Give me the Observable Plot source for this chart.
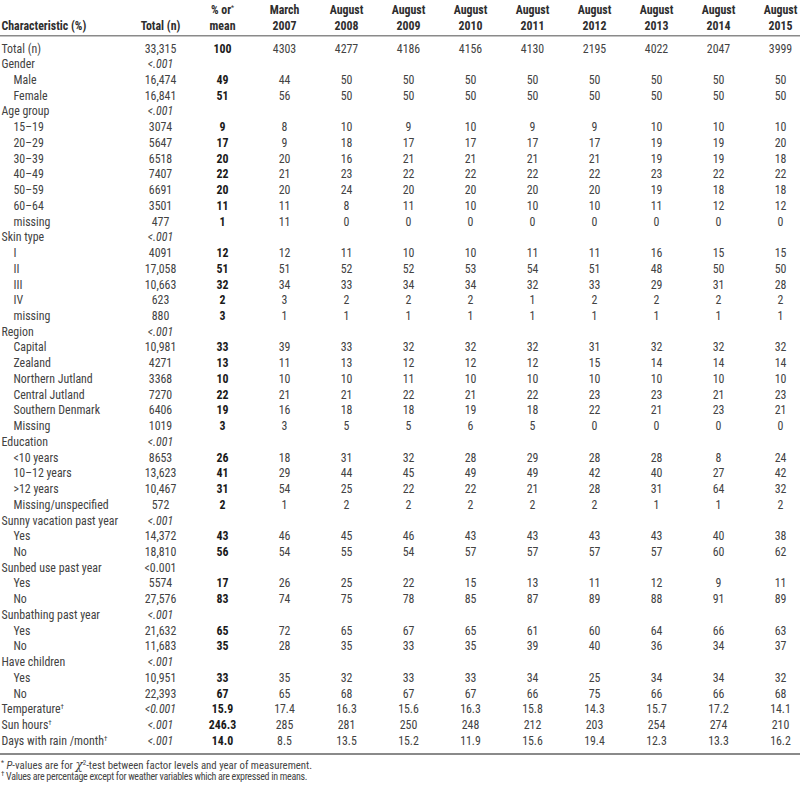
<!DOCTYPE html>
<html>
<head>
<meta charset="utf-8">
<script src="https://cdn.jsdelivr.net/npm/d3@7"></script>
<script src="https://cdn.jsdelivr.net/npm/@observablehq/plot@0.6"></script>
<style>
  body { margin: 0; background: #fff; }
  #chart svg { display: block; }
  .notes { font-family: "Liberation Sans Narrow", "Arial Narrow", "Roboto Condensed", "DejaVu Sans Condensed", "Liberation Sans", sans-serif;
           color: #444; line-height: 11px; padding-left: 1px; margin-top: 3px; }
  .notes .n1 { font-size: 10.8px; }
  .notes .n2 { font-size: 10px; letter-spacing: -0.3px; }
  .notes sup { font-size: 7px; line-height: 0; vertical-align: baseline; position: relative; top: -0.55em; }
  .notes .chi { font-family: "DejaVu Serif", "Liberation Serif", serif; font-size: 12px; line-height: 0; font-style: italic; }
</style>
</head>
<body>
<div id="chart"></div>
<div class="notes">
  <div class="n1"><sup>*</sup> <i>P</i>-values are for <span class="chi">χ</span><sup>2</sup>-test between factor levels and year of measurement.</div>
  <div class="n2"><sup>†</sup> Values are percentage except for weather variables which are expressed in means.</div>
</div>
<script>
// ---------- data ----------
const columns = ["Total (n)", "% or mean", "March 2007", "August 2008", "August 2009", "August 2010",
  "August 2011", "August 2012", "August 2013", "August 2014", "August 2015"];
const headerTop = ["", "% or*", "March", "August", "August", "August", "August", "August", "August", "August", "August"];
const headerBottom = ["Total (n)", "mean", "2007", "2008", "2009", "2010", "2011", "2012", "2013", "2014", "2015"];

const characteristic = ["Total (n)", "Gender", "Male", "Female", "Age group", "15–19", "20–29", "30–39", "40–49",
  "50–59", "60–64", "missing", "Skin type", "I", "II", "III", "IV", "missing", "Region", "Capital", "Zealand",
  "Northern Jutland", "Central Jutland", "Southern Denmark", "Missing", "Education", "<10 years", "10–12 years",
  ">12 years", "Missing/unspecified", "Sunny vacation past year", "Yes", "No", "Sunbed use past year", "Yes", "No",
  "Sunbathing past year", "Yes", "No", "Have children", "Yes", "No", "Temperature†", "Sun hours†",
  "Days with rain /month†"];
const level = [0, 0, 1, 1, 0, 1, 1, 1, 1, 1, 1, 1, 0, 1, 1, 1, 1, 1, 0, 1, 1, 1, 1, 1, 1, 0, 1, 1, 1, 1,
  0, 1, 1, 0, 1, 1, 0, 1, 1, 0, 1, 1, 0, 0, 0];

const totalN = ["33,315", "", "16,474", "16,841", "", "3074", "5647", "6518", "7407", "6691", "3501", "477", "",
  "4091", "17,058", "10,663", "623", "880", "", "10,981", "4271", "3368", "7270", "6406", "1019", "", "8653",
  "13,623", "10,467", "572", "", "14,372", "18,810", "", "5574", "27,576", "", "21,632", "11,683", "", "10,951",
  "22,393", "", "", ""];
const pValue = ["", "<.001", "", "", "<.001", "", "", "", "", "", "", "", "<.001", "", "", "", "", "", "<.001",
  "", "", "", "", "", "", "<.001", "", "", "", "", "<.001", "", "", "<0.001", "", "", "<.001", "", "", "<.001",
  "", "", "<0.001", "<.001", "<.001"];
const pctMean = ["100", "", "49", "51", "", "9", "17", "20", "22", "20", "11", "1", "", "12", "51", "32", "2", "3",
  "", "33", "13", "10", "22", "19", "3", "", "26", "41", "31", "2", "", "43", "56", "", "17", "83", "", "65", "35",
  "", "33", "67", "15.9", "246.3", "14.0"];

// one row per characteristic: March 2007, August 2008 ... August 2015
const yearValues = [
  ["4303", "4277", "4186", "4156", "4130", "2195", "4022", "2047", "3999"],
  [],
  ["44", "50", "50", "50", "50", "50", "50", "50", "50"],
  ["56", "50", "50", "50", "50", "50", "50", "50", "50"],
  [],
  ["8", "10", "9", "10", "9", "9", "10", "10", "10"],
  ["9", "18", "17", "17", "17", "17", "19", "19", "20"],
  ["20", "16", "21", "21", "21", "21", "19", "19", "18"],
  ["21", "23", "22", "22", "22", "22", "23", "22", "22"],
  ["20", "24", "20", "20", "20", "20", "19", "18", "18"],
  ["11", "8", "11", "10", "10", "10", "11", "12", "12"],
  ["11", "0", "0", "0", "0", "0", "0", "0", "0"],
  [],
  ["12", "11", "10", "10", "11", "11", "16", "15", "15"],
  ["51", "52", "52", "53", "54", "51", "48", "50", "50"],
  ["34", "33", "34", "34", "32", "33", "29", "31", "28"],
  ["3", "2", "2", "2", "1", "2", "2", "2", "2"],
  ["1", "1", "1", "1", "1", "1", "1", "1", "1"],
  [],
  ["39", "33", "32", "32", "32", "31", "32", "32", "32"],
  ["11", "13", "12", "12", "12", "15", "14", "14", "14"],
  ["10", "10", "11", "10", "10", "10", "10", "10", "10"],
  ["21", "21", "22", "21", "22", "23", "23", "21", "23"],
  ["16", "18", "18", "19", "18", "22", "21", "23", "21"],
  ["3", "5", "5", "6", "5", "0", "0", "0", "0"],
  [],
  ["18", "31", "32", "28", "29", "28", "28", "8", "24"],
  ["29", "44", "45", "49", "49", "42", "40", "27", "42"],
  ["54", "25", "22", "22", "21", "28", "31", "64", "32"],
  ["1", "2", "2", "2", "2", "2", "1", "1", "2"],
  [],
  ["46", "45", "46", "43", "43", "43", "43", "40", "38"],
  ["54", "55", "54", "57", "57", "57", "57", "60", "62"],
  [],
  ["26", "25", "22", "15", "13", "11", "12", "9", "11"],
  ["74", "75", "78", "85", "87", "89", "88", "91", "89"],
  [],
  ["72", "65", "67", "65", "61", "60", "64", "66", "63"],
  ["28", "35", "33", "35", "39", "40", "36", "34", "37"],
  [],
  ["35", "32", "33", "33", "34", "25", "34", "34", "32"],
  ["65", "68", "67", "67", "66", "75", "66", "66", "68"],
  ["17.4", "16.3", "15.6", "16.3", "15.8", "14.3", "15.7", "17.2", "14.1"],
  ["285", "281", "250", "248", "212", "203", "254", "274", "210"],
  ["8.5", "13.5", "15.2", "11.9", "15.6", "19.4", "12.3", "13.3", "16.2"]
];

// ---------- build cell table ----------
const rows = d3.range(characteristic.length);
const cells = [];
rows.forEach(i => {
  if (totalN[i]) cells.push({row: i, col: columns[0], text: totalN[i], kind: "n"});
  if (pValue[i]) cells.push({row: i, col: columns[0], text: pValue[i], kind: pValue[i] === "<0.001" && level[i + 1] === 1 ? "pup" : "p"});
  if (pctMean[i]) cells.push({row: i, col: columns[1], text: pctMean[i], kind: "pct"});
  yearValues[i].forEach((v, j) => { if (v !== "") cells.push({row: i, col: columns[j + 2], text: v, kind: "year"}); });
});

const FONT = '"Liberation Sans Narrow", "Arial Narrow", "Roboto Condensed", "DejaVu Sans Condensed", "Liberation Sans", sans-serif';
const TXT = "#424242";

const chart = Plot.plot({
  width: 800,
  height: 757,
  marginTop: 35.5,
  marginBottom: 3.5,
  marginLeft: 0,
  marginRight: 0,
  x: {type: "point", domain: columns, range: [158.5, 780.5], padding: 0, axis: null},
  y: {type: "point", domain: rows, range: [47.7, 740], padding: 0, axis: null},
  style: {fontFamily: FONT, fontSize: "13.5px", background: "#fff", color: TXT},
  marks: [
    // horizontal rules
    Plot.ruleY([rows[0]], {dy: -12.5, stroke: "#8a8a8a", strokeWidth: 1.6}),
    Plot.ruleY([rows[rows.length - 1]], {dy: 13.5, stroke: "#8a8a8a", strokeWidth: 2.2}),
    // header
    Plot.text(["Characteristic (%)"], {frameAnchor: "top-left", lineAnchor: "middle", textAnchor: "start",
      dx: 1, dy: -10.5, fontWeight: "bold", fill: "#2e2e2e"}),
    Plot.text(columns, {x: d => d, text: (d, i) => headerTop[i], frameAnchor: "top", lineAnchor: "middle",
      dy: -26.5, fontWeight: "bold", fill: "#2e2e2e"}),
    Plot.text(columns, {x: d => d, text: (d, i) => headerBottom[i], frameAnchor: "top", lineAnchor: "middle",
      dy: -10.5, fontWeight: "bold", fill: "#2e2e2e"}),
    // row labels
    Plot.text(rows.filter(i => level[i] === 0), {y: d => d, text: d => characteristic[d],
      frameAnchor: "left", textAnchor: "start", dx: 1, fill: TXT}),
    Plot.text(rows.filter(i => level[i] === 1), {y: d => d, text: d => characteristic[d],
      frameAnchor: "left", textAnchor: "start", dx: 13, fill: TXT}),
    // values
    Plot.text(cells.filter(d => d.kind === "n" || d.kind === "year" || d.kind === "pup"),
      {x: "col", y: "row", text: "text", fill: TXT}),
    Plot.text(cells.filter(d => d.kind === "p"),
      {x: "col", y: "row", text: "text", fill: TXT, fontStyle: "italic"}),
    Plot.text(cells.filter(d => d.kind === "pct"),
      {x: "col", y: "row", text: "text", fill: "#1a1a1a", fontWeight: "bold"})
  ]
});

// superscript trailing * and † marks
const NS = "http://www.w3.org/2000/svg";
chart.querySelectorAll("text").forEach(t => {
  if (t.children.length === 0) {
    const m = t.textContent.match(/^(.*?)([*†])$/);
    if (m) {
      t.textContent = m[1];
      const ts = document.createElementNS(NS, "tspan");
      ts.setAttribute("dy", "-0.5em");
      ts.setAttribute("font-size", "8");
      ts.setAttribute("font-weight", "normal");
      ts.textContent = m[2];
      t.appendChild(ts);
    }
  }
});

document.getElementById("chart").appendChild(chart);

// condense glyphs horizontally to mimic the narrow typeface of the reference
chart.querySelectorAll("text").forEach(t => {
  const L = t.getComputedTextLength();
  if (L > 0) {
    t.setAttribute("textLength", (L * 0.88).toFixed(2));
    t.setAttribute("lengthAdjust", "spacingAndGlyphs");
  }
});
</script>
</body>
</html>
